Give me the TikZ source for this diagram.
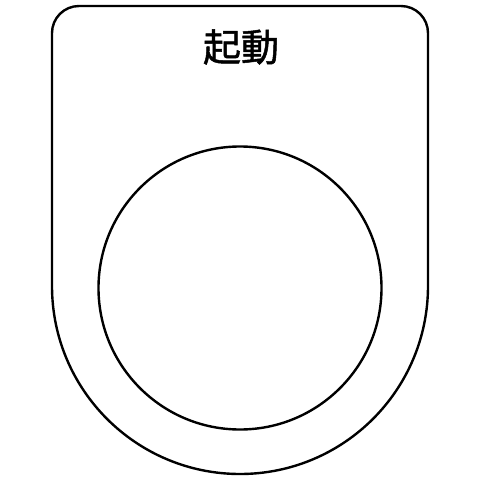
\documentclass[tikz,border=0pt]{standalone}
\usepackage{fontspec}
\newfontfamily\cjk[BoldFont={Noto Sans CJK JP},BoldFeatures={FakeBold=1.3}]{Noto Sans CJK JP}
\begin{document}
\begin{tikzpicture}[x=1pt,y=-1pt,
  outline/.style={draw=black,line width=2.4pt},
  title/.style={font=\cjk\bfseries\fontsize{38}{40}\selectfont,inner sep=0pt}]
\useasboundingbox[fill=white] (0,0) rectangle (480,480);
\draw[outline] (52,286) -- (52,33) arc[start angle=180,end angle=270,radius=27]
  -- (401,6) arc[start angle=270,end angle=360,radius=27]
  -- (428,286) arc[start angle=0,end angle=180,radius=188];
\node[outline,circle,minimum size=283pt,inner sep=0pt] (btn) at (240,288) {};
\node[title] (label) at (241,47) {起動};
\end{tikzpicture}
\end{document}
